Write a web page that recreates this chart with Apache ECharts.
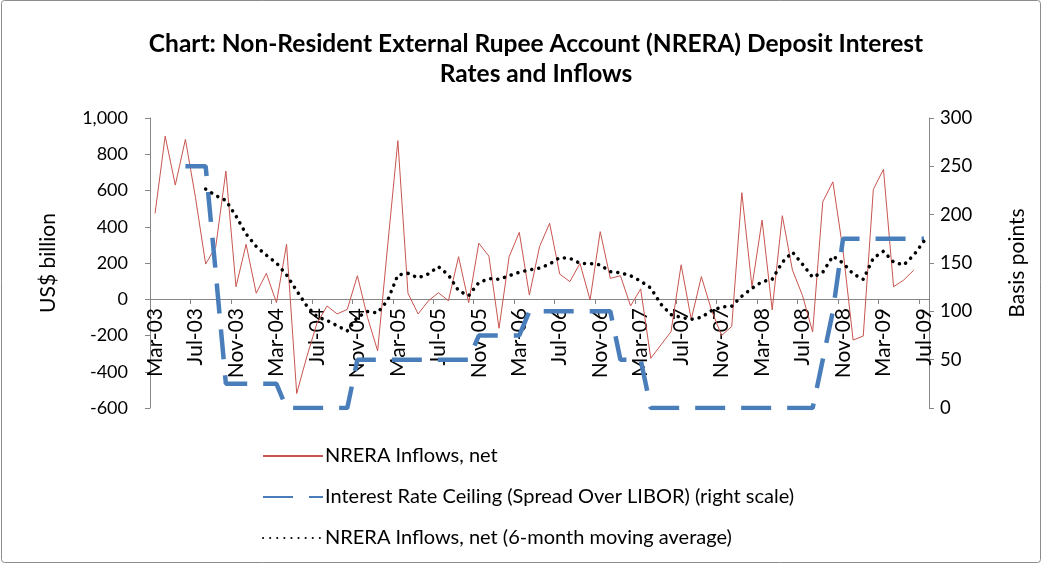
<!DOCTYPE html>
<html>
<head>
<meta charset="utf-8">
<script src="https://cdn.jsdelivr.net/npm/echarts/dist/echarts.min.js"></script>
<style>
  html, body { margin: 0; padding: 0; background: #fff; }
  #chart { width: 1045px; height: 567px; }
</style>
</head>
<body>
<div id="chart"></div>
<script>
// months, Mar-03 .. Jul-09
var months = [
  'Mar-03', 'Apr-03', 'May-03', 'Jun-03', 'Jul-03', 'Aug-03', 'Sep-03', 'Oct-03', 'Nov-03', 'Dec-03',
  'Jan-04', 'Feb-04', 'Mar-04', 'Apr-04', 'May-04', 'Jun-04', 'Jul-04', 'Aug-04', 'Sep-04', 'Oct-04',
  'Nov-04', 'Dec-04', 'Jan-05', 'Feb-05', 'Mar-05', 'Apr-05', 'May-05', 'Jun-05', 'Jul-05', 'Aug-05',
  'Sep-05', 'Oct-05', 'Nov-05', 'Dec-05', 'Jan-06', 'Feb-06', 'Mar-06', 'Apr-06', 'May-06', 'Jun-06',
  'Jul-06', 'Aug-06', 'Sep-06', 'Oct-06', 'Nov-06', 'Dec-06', 'Jan-07', 'Feb-07', 'Mar-07', 'Apr-07',
  'May-07', 'Jun-07', 'Jul-07', 'Aug-07', 'Sep-07', 'Oct-07', 'Nov-07', 'Dec-07', 'Jan-08', 'Feb-08',
  'Mar-08', 'Apr-08', 'May-08', 'Jun-08', 'Jul-08', 'Aug-08', 'Sep-08', 'Oct-08', 'Nov-08', 'Dec-08',
  'Jan-09', 'Feb-09', 'Mar-09', 'Apr-09', 'May-09', 'Jun-09', 'Jul-09'
];

// NRERA inflows, net
var inflows = [
  474, 900, 630, 882, 560, 194, 290, 707, 69, 303,
  33, 143, -19, 303, -520, -317, -133, -37, -81, -56,
  130, -100, -285, 300, 875, 33, -81, -10, 36, -8,
  235, -19, 309, 238, -160, 235, 369, 23, 290, 419,
  139, 97, 198, -4, 373, 115, 130, -37, 57, -326,
  -252, -179, 190, -111, 125, -60, -200, -150, 588, 69,
  437, -59, 461, 161, 20, -180, 538, 648, 270, -225,
  -203, 606, 717, 69, 106, 161, null
];

// 6-month moving average
var movingAvg = [
  null, null, null, null, null, 608, 572, 545, 459, 360,
  291, 243, 200, 134, 47, -37, -96, -117, -146, -175,
  -100, -68, -75, -5, 134, 143, 118, 139, 180, 134,
  47, 20, 92, 114, 110, 130, 149, 162, 172, 194,
  230, 226, 198, 197, 190, 152, 146, 130, 100, 62,
  -27, -85, -100, -111, -100, -63, -43, -38, 17, 60,
  97, 110, 204, 260, 193, 121, 149, 238, 200, 140,
  110, 227, 265, 205, 189, 244, 320
];

// interest rate ceiling, basis points over LIBOR
var ceiling = [
  null, null, null, 250, 250, 250, 140, 25, 25, 25,
  25, 25, 25, 0, 0, 0, 0, 0, 0, 0,
  50, 50, 50, 50, 50, 50, 50, 50, 50, 50,
  50, 50, 75, 75, 75, 75, 75, 100, 100, 100,
  100, 100, 100, 100, 100, 100, 50, 50, 50, 0,
  0, 0, 0, 0, 0, 0, 0, 0, 0, 0,
  0, 0, 0, 0, 0, 0, 50, 100, 175, 175,
  175, 175, 175, 175, 175, 175, 175
];

var FONT = 'Lato';

var chartDom = document.getElementById('chart');
var myChart = echarts.init(chartDom, null, { renderer: 'canvas' });
var option;

option = {
  backgroundColor: '#fff',
  animation: false,
  textStyle: { fontFamily: FONT },
  title: {
    text: 'Chart: Non-Resident External Rupee Account (NRERA) Deposit Interest\nRates and Inflows',
    left: 531,
    top: 24,
    textAlign: 'center',
    textStyle: {
      fontFamily: FONT,
      fontSize: 24.5,
      fontWeight: 'bold',
      color: '#000',
      lineHeight: 30
    }
  },
  graphic: [
    {
      type: 'rect',
      shape: { x: 1.5, y: 0.5, width: 1039, height: 562, r: 3 },
      style: { fill: 'none', stroke: '#8c8c8c', lineWidth: 1 },
      silent: true
    }
  ],
  legend: {
    orient: 'vertical',
    left: 257,
    top: 441,
    itemWidth: 60,
    itemHeight: 14,
    itemGap: 21,
    itemStyle: { opacity: 0 },
    data: [
      'NRERA Inflows, net',
      'Interest Rate Ceiling (Spread Over LIBOR) (right scale)',
      'NRERA Inflows, net (6-month moving average)'
    ],
    textStyle: { fontFamily: FONT, fontSize: 20, color: '#000', padding: [0, 0, 0, -3] }
  },
  grid: {
    left: 150,
    right: 116,
    top: 118,
    bottom: 159
  },
  xAxis: {
    type: 'category',
    data: months,
    boundaryGap: true,
    // sit the category axis on the zero line of the left scale
    offset: -109,
    axisLine: { onZero: false, lineStyle: { color: '#868686', width: 1 } },
    axisTick: { show: true, interval: 3, length: 5, lineStyle: { color: '#868686' } },
    axisLabel: {
      interval: 3,
      rotate: 90,
      margin: 9,
      fontFamily: FONT,
      fontSize: 21,
      color: '#000'
    },
    splitLine: { show: false }
  },
  yAxis: [
    {
      type: 'value',
      min: -600,
      max: 1000,
      interval: 200,
      name: 'US$ billion',
      nameLocation: 'middle',
      nameRotate: 90,
      nameGap: 91,
      nameTextStyle: { fontFamily: FONT, fontSize: 21, color: '#000' },
      axisLine: { show: true, lineStyle: { color: '#868686' } },
      axisTick: { show: true, length: 5, lineStyle: { color: '#868686' } },
      axisLabel: {
        margin: 22,
        fontFamily: FONT,
        fontSize: 18,
        color: '#000',
        formatter: function (v) {
          return v.toLocaleString('en-US');
        }
      },
      splitLine: { show: false }
    },
    {
      type: 'value',
      min: 0,
      max: 300,
      interval: 50,
      position: 'right',
      name: 'Basis points',
      nameLocation: 'middle',
      nameRotate: 90,
      nameGap: 78,
      nameTextStyle: { fontFamily: FONT, fontSize: 21, color: '#000' },
      axisLine: { show: true, lineStyle: { color: '#868686' } },
      axisTick: { show: true, length: 5, lineStyle: { color: '#868686' } },
      axisLabel: { margin: 11, fontFamily: FONT, fontSize: 18.5, color: '#000' },
      splitLine: { show: false }
    }
  ],
  series: [
    {
      name: 'NRERA Inflows, net',
      type: 'line',
      yAxisIndex: 0,
      data: inflows,
      showSymbol: false,
      symbol: 'none',
      color: '#c8554f',
      lineStyle: { color: '#c8554f', width: 1 },
      z: 2
    },
    {
      name: 'Interest Rate Ceiling (Spread Over LIBOR) (right scale)',
      type: 'line',
      yAxisIndex: 1,
      data: ceiling,
      showSymbol: false,
      symbol: 'none',
      color: '#4a7ebb',
      lineStyle: { color: '#4a7ebb', width: 4.5, type: [30, 16], cap: 'butt' },
      z: 3
    },
    {
      name: 'NRERA Inflows, net (6-month moving average)',
      type: 'line',
      yAxisIndex: 0,
      data: movingAvg,
      showSymbol: false,
      symbol: 'none',
      color: '#000',
      lineStyle: { color: '#000', width: 3.5, type: [0.1, 7], cap: 'round' },
      z: 4
    }
  ]
};

option && myChart.setOption(option);
</script>
</body>
</html>
